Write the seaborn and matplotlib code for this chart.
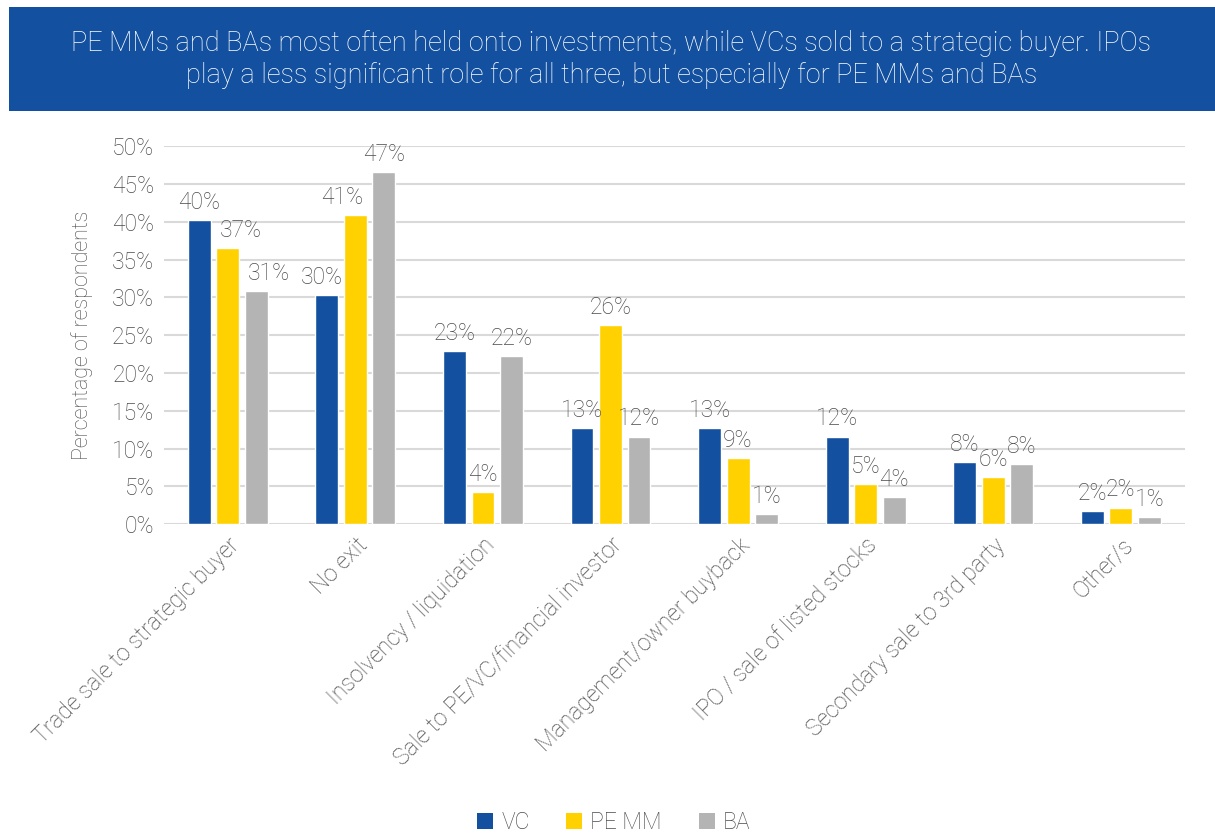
import matplotlib
matplotlib.use("Agg")
import matplotlib.pyplot as plt
import seaborn as sns
import pandas as pd
from matplotlib.patches import Rectangle, Patch

categories = ["Trade sale to strategic buyer", "No exit", "Insolvency / liquidation",
              "Sale to PE/VC/financial investor", "Management/owner buyback",
              "IPO / sale of listed stocks", "Secondary sale to 3rd party", "Other/s"]
series = ["VC", "PE MM", "BA"]
vc = [40.3, 30.3, 22.9, 12.7, 12.7, 11.6, 8.2, 1.7]
pe_mm = [36.6, 40.9, 4.2, 26.3, 8.8, 5.3, 6.2, 2.2]
ba = [30.8, 46.6, 22.3, 11.6, 1.4, 3.6, 7.9, 0.9]
yticks = [0, 5, 10, 15, 20, 25, 30, 35, 40, 45, 50]
colors = ["#1350A0", "#FFD100", "#B4B4B4"]
title_lines = "PE MMs and BAs most often held onto investments, while VCs sold to a strategic buyer. IPOs\nplay a less significant role for all three, but especially for PE MMs and BAs"

df = pd.DataFrame({
    "category": categories * 3,
    "series": [s for s in series for _ in categories],
    "value": vc + pe_mm + ba,
})

sns.set_theme(style="white")
plt.rcParams["font.family"] = ["Roboto", "DejaVu Sans"]
plt.rcParams["font.weight"] = "light"
text_color = "#4a4a4a"
fs = 16.5

fig = plt.figure(figsize=(12.15, 8.36), dpi=100)
ax = fig.add_axes([0.135, 0.373, 0.84, 0.452])

sns.barplot(data=df, x="category", y="value", hue="series", order=categories,
            hue_order=series, palette=colors, width=0.67, gap=0.2, ax=ax,
            legend=False, saturation=1)

ax.set_ylim(0, 50)
ax.set_xlim(-0.5, len(categories) - 0.5)
ax.set_yticks(yticks)
ax.set_yticklabels([f"{t}%" for t in yticks], fontsize=fs, color=text_color, fontweight="light")
ax.yaxis.grid(True, color="#D9D9D9", linewidth=1.5)
ax.set_axisbelow(True)
for s in ax.spines.values():
    s.set_visible(False)
ax.tick_params(axis="both", length=0, pad=7)
ax.set_xlabel("")
ax.set_ylabel("Percentage of respondents", fontsize=15.5, color=text_color, labelpad=14,
              fontweight="light")
ax.set_xticks(range(len(categories)))
ax.set_xticklabels(categories, rotation=45, ha="right", rotation_mode="anchor",
                   fontsize=fs, color=text_color, fontweight="light")

# small horizontal nudges (in category units) so labels clear neighbouring bars
nudge = {(1, 0): 0.1, (2, 0): 0.1, (0, 1): -0.04, (1, 1): -0.1}
for si, cont in enumerate(ax.containers):
    for ci, bar in enumerate(cont):
        h = bar.get_height()
        dx = nudge.get((si, ci), 0.0)
        ax.text(bar.get_x() + bar.get_width() / 2 + dx, h + 0.8, f"{round(h):d}%",
                ha="center", va="bottom", fontsize=fs, color=text_color, clip_on=False,
                fontweight="light")

# banner
fig.patches.append(Rectangle((0.0074, 0.867), 0.993, 0.1244, transform=fig.transFigure,
                             facecolor="#1351A0", edgecolor="none", zorder=0))
fig.text(0.503, 0.929, title_lines, ha="center", va="center", color="white",
         fontsize=19.5, linespacing=1.25, fontweight="light")

handles = [Patch(facecolor=c, edgecolor="none") for c in colors]
fig.legend(handles, series, loc="center", bbox_to_anchor=(0.505, 0.016), ncol=3,
           frameon=False, fontsize=fs, labelcolor=text_color, handlelength=0.7,
           handleheight=0.7, handletextpad=0.35, columnspacing=1.6)

fig.savefig("out.png", dpi=100)
